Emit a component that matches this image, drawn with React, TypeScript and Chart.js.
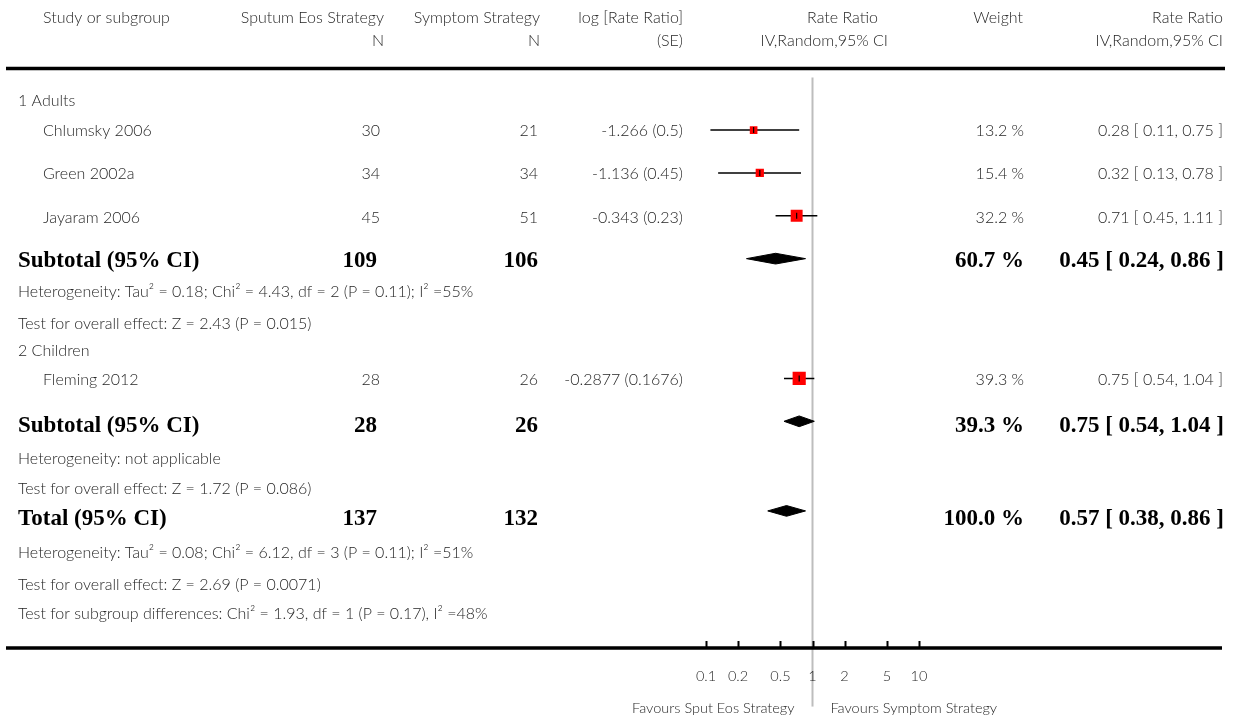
import React, { useEffect, useRef } from 'react';
import { Chart, registerables } from 'chart.js';

Chart.register(...registerables);

// ---------- DATA ----------
const STUDIES = ['Chlumsky 2006', 'Green 2002a', 'Jayaram 2006', 'Fleming 2012'];
const N_EOS = [30, 34, 45, 28];
const N_SYM = [21, 34, 51, 26];
const LOG_RR = ['-1.266', '-1.136', '-0.343', '-0.2877'];
const LOG_SE = ['0.5', '0.45', '0.23', '0.1676'];
const RR = [0.28, 0.32, 0.71, 0.75];
const RR_LO = [0.11, 0.13, 0.45, 0.54];
const RR_HI = [0.75, 0.78, 1.11, 1.04];
const WEIGHT = [13.2, 15.4, 32.2, 39.3];

const SUM_LABELS = ['Subtotal (95% CI)', 'Subtotal (95% CI)', 'Total (95% CI)'];
const SUM_N_EOS = [109, 28, 137];
const SUM_N_SYM = [106, 26, 132];
const SUM_WEIGHT = ['60.7', '39.3', '100.0'];
const SUM_RR = [0.45, 0.75, 0.57];
const SUM_LO = [0.24, 0.54, 0.38];
const SUM_HI = [0.86, 1.04, 0.86];

const GROUPS = ['1 Adults', '2 Children'];
const HETEROGENEITY = [
  'Heterogeneity: Tau² = 0.18; Chi² = 4.43, df = 2 (P = 0.11); I² =55%',
  'Heterogeneity: not applicable',
  'Heterogeneity: Tau² = 0.08; Chi² = 6.12, df = 3 (P = 0.11); I² =51%',
];
const OVERALL = [
  'Test for overall effect: Z = 2.43 (P = 0.015)',
  'Test for overall effect: Z = 1.72 (P = 0.086)',
  'Test for overall effect: Z = 2.69 (P = 0.0071)',
];
const SUBGROUP_DIFF = 'Test for subgroup differences: Chi² = 1.93, df = 1 (P = 0.17), I² =48%';

const TICKS = [0.1, 0.2, 0.5, 1, 2, 5, 10];
const TICK_LABELS = ['0.1', '0.2', '0.5', '1', '2', '5', '10'];
const FAVOURS_LEFT = 'Favours Sput Eos Strategy';
const FAVOURS_RIGHT = 'Favours Symptom Strategy';

// ---------- LAYOUT (pixel rows; y scale is in pixel units) ----------
const W = 1237;
const H = 716;
const STUDY_TEXT_Y = [131, 174, 218, 380];
const STUDY_MARK_Y = [124, 168, 212, 379];
const SUM_TEXT_Y = [261, 426, 519];
const SUM_MARK_Y = [256, 423, 515];
const GROUP_Y = [101, 351];
const HET_Y = [292, 459, 553];
const OVERALL_Y = [324, 489, 585];
const SUBGROUP_Y = 614;
const AXIS_Y = 648;

const SANS = '"Lato", "Open Sans", sans-serif';
const SERIF = '"Liberation Serif", "DejaVu Serif", serif';
const TXT = '#262626';

const fmt = (v: number) => v.toFixed(2);
const ciText = (r: number, l: number, h: number) => `${fmt(r)} [ ${fmt(l)}, ${fmt(h)} ]`;

const textPlugin = {
  id: 'forestText',
  afterDraw(chart: any) {
    const ctx: CanvasRenderingContext2D = chart.ctx;
    const xs = chart.scales.x;
    ctx.save();
    const t = (s: string, x: number, y: number, align: CanvasTextAlign, font: string, color = TXT) => {
      ctx.font = font;
      ctx.fillStyle = color;
      ctx.textAlign = align;
      ctx.textBaseline = 'middle';
      ctx.fillText(s, x, y);
    };
    const F = `300 16px ${SANS}`;
    const FS = `300 14.5px ${SANS}`;
    const FB = `bold 23px ${SERIF}`;

    // header
    t('Study or subgroup', 43, 18, 'left', F);
    t('Sputum Eos Strategy', 384, 18, 'right', F);
    t('N', 384, 41, 'right', F);
    t('Symptom Strategy', 540, 18, 'right', F);
    t('N', 540, 41, 'right', F);
    t('log [Rate Ratio]', 683, 18, 'right', F);
    t('(SE)', 683, 41, 'right', F);
    t('Rate Ratio', 878, 18, 'right', F);
    t('IV,Random,95% CI', 888, 41, 'right', F);
    t('Weight', 1023, 18, 'right', F);
    t('Rate Ratio', 1223, 18, 'right', F);
    t('IV,Random,95% CI', 1223, 41, 'right', F);

    // rules
    ctx.strokeStyle = '#000';
    ctx.lineWidth = 3.5;
    ctx.beginPath();
    ctx.moveTo(6, 68.5);
    ctx.lineTo(1225, 68.5);
    ctx.moveTo(6, AXIS_Y);
    ctx.lineTo(1222, AXIS_Y);
    ctx.stroke();

    // ticks
    ctx.lineWidth = 2;
    ctx.beginPath();
    TICKS.forEach((v) => {
      const x = Math.round(xs.getPixelForValue(v)) + 0.5;
      ctx.moveTo(x, AXIS_Y);
      ctx.lineTo(x, AXIS_Y - 7);
    });
    ctx.stroke();
    TICKS.forEach((v, i) => t(TICK_LABELS[i], xs.getPixelForValue(v), 676, 'center', FS));
    const x1 = xs.getPixelForValue(1);
    t(FAVOURS_LEFT, x1 - 18, 708, 'right', FS);
    t(FAVOURS_RIGHT, x1 + 18, 708, 'left', FS);

    // groups
    GROUPS.forEach((g, i) => t(g, 18, GROUP_Y[i], 'left', F));

    // studies
    STUDIES.forEach((s, i) => {
      const y = STUDY_TEXT_Y[i];
      t(s, 43, y, 'left', F);
      t(String(N_EOS[i]), 380, y, 'right', F);
      t(String(N_SYM[i]), 538, y, 'right', F);
      t(`${LOG_RR[i]} (${LOG_SE[i]})`, 683, y, 'right', F);
      t(`${WEIGHT[i].toFixed(1)} %`, 1024, y, 'right', F);
      t(ciText(RR[i], RR_LO[i], RR_HI[i]), 1223, y, 'right', F);
    });

    // summaries
    SUM_LABELS.forEach((s, i) => {
      const y = SUM_TEXT_Y[i];
      t(s, 18, y, 'left', FB, '#000');
      t(String(SUM_N_EOS[i]), 377, y, 'right', FB, '#000');
      t(String(SUM_N_SYM[i]), 538, y, 'right', FB, '#000');
      t(`${SUM_WEIGHT[i]} %`, 1024, y, 'right', FB, '#000');
      t(ciText(SUM_RR[i], SUM_LO[i], SUM_HI[i]), 1224, y, 'right', FB, '#000');
    });

    HETEROGENEITY.forEach((s, i) => t(s, 18, HET_Y[i], 'left', F));
    OVERALL.forEach((s, i) => t(s, 18, OVERALL_Y[i], 'left', F));
    t(SUBGROUP_DIFF, 18, SUBGROUP_Y, 'left', F);
    ctx.restore();
  },
};

export default function App() {
  const ref = useRef<HTMLCanvasElement>(null);
  useEffect(() => {
    const canvas = ref.current as HTMLCanvasElement;

    const ciSets = STUDIES.map((s, i) => ({
      type: 'line' as const,
      label: s + ' CI',
      data: [
        { x: RR_LO[i], y: STUDY_MARK_Y[i] },
        { x: RR_HI[i], y: STUDY_MARK_Y[i] },
      ],
      borderColor: '#000',
      borderWidth: 1.5,
      pointRadius: 0,
      fill: false,
      order: 3,
    }));

    const diamondSets = SUM_LABELS.map((s, i) => {
      const y = SUM_MARK_Y[i];
      return {
        type: 'line' as const,
        label: s,
        data: [
          { x: SUM_LO[i], y },
          { x: SUM_RR[i], y: y - 5.5 },
          { x: SUM_HI[i], y },
          { x: SUM_RR[i], y: y + 5.5 },
          { x: SUM_LO[i], y },
        ],
        borderColor: '#000',
        backgroundColor: '#000',
        borderWidth: 1,
        pointRadius: 0,
        fill: 'shape',
        order: 2,
      };
    });

    const chart = new Chart(canvas, {
      type: 'scatter',
      data: {
        datasets: [
          {
            type: 'line',
            label: 'no effect',
            data: [
              { x: 1, y: 70 },
              { x: 1, y: H },
            ],
            borderColor: '#bdbdbd',
            borderWidth: 2,
            pointRadius: 0,
            fill: false,
            order: 5,
          },
          ...ciSets,
          ...diamondSets,
          {
            type: 'scatter',
            label: 'estimates',
            data: STUDIES.map((_, i) => ({ x: RR[i], y: STUDY_MARK_Y[i] })),
            pointStyle: 'rect',
            pointRadius: (c: any) => (2.1 * Math.sqrt(WEIGHT[c.dataIndex] ?? 10)) / 1.4142,
            backgroundColor: '#ff0000',
            borderWidth: 0,
            order: 1,
          },
          {
            type: 'scatter',
            label: 'centre',
            data: STUDIES.map((_, i) => ({ x: RR[i], y: STUDY_MARK_Y[i] })),
            pointStyle: 'line',
            rotation: 90,
            pointRadius: 3,
            borderColor: '#000',
            borderWidth: 1.2,
            order: 0,
          },
        ] as any,
      },
      options: {
        responsive: false,
        devicePixelRatio: 1,
        animation: false,
        events: [],
        layout: { padding: { left: 706, right: W - 919, top: 0, bottom: 0 } },
        scales: {
          x: { type: 'logarithmic', min: 0.1, max: 10, display: false },
          y: { type: 'linear', min: 0, max: H, reverse: true, display: false },
        },
        plugins: {
          legend: { display: false },
          tooltip: { enabled: false },
        },
      } as any,
      plugins: [textPlugin],
    });
    return () => chart.destroy();
  }, []);

  return (
    <div style={{ position: 'fixed', left: 0, top: 0, width: W, height: H, background: '#fff' }}>
      <canvas ref={ref} width={W} height={H} style={{ display: 'block', width: W, height: H }} />
    </div>
  );
}
